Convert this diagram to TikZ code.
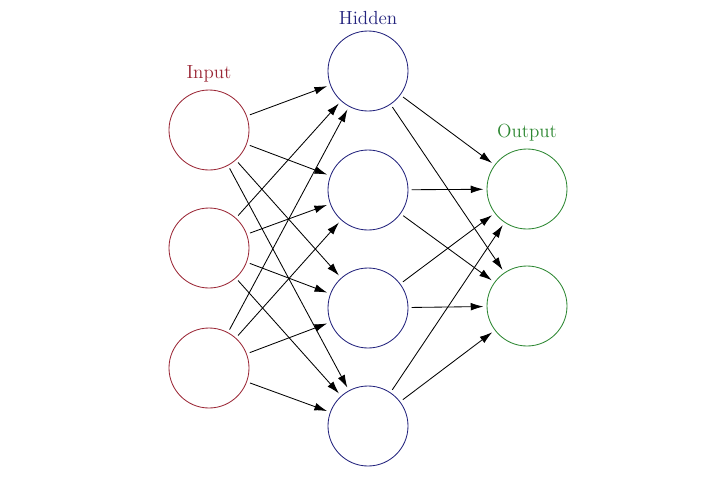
\documentclass[tikz,border=0pt]{standalone}
\usetikzlibrary{arrows.meta}
\tikzset{>={Latex[length=9pt,width=5.5pt]}}
\definecolor{inred}{RGB}{155,40,55}
\definecolor{hidblue}{RGB}{35,35,125}
\definecolor{outgreen}{RGB}{45,135,50}

\begin{document}
\begin{tikzpicture}[
    neuron/.style={circle, draw, line width=0.6pt, minimum size=2cm, inner sep=0pt, outer sep=0.09cm},
    label/.style={font=\fontsize{13.5}{16}\selectfont}
  ]
    \useasboundingbox (0,0) rectangle (18,-12);
    % layers
    \node[neuron, inred] (in1) at (5.225,-3.25) {};
    \node[neuron, inred] (in2) at (5.225,-6.2) {};
    \node[neuron, inred] (in3) at (5.225,-9.2) {};
    \node[neuron, hidblue] (hid1) at (9.2,-1.775) {};
    \node[neuron, hidblue] (hid2) at (9.2,-4.75) {};
    \node[neuron, hidblue] (hid3) at (9.2,-7.7) {};
    \node[neuron, hidblue] (hid4) at (9.2,-10.65) {};
    \node[neuron, outgreen] (out1) at (13.175,-4.725) {};
    \node[neuron, outgreen] (out2) at (13.175,-7.65) {};
    % titles
    \node[label, inred] (intitle) at (5.225,-1.85) {Input};
    \node[label, hidblue] (hidtitle) at (9.2,-0.45) {Hidden};
    \node[label, outgreen] (outtitle) at (13.175,-3.32) {Output};
    % connections
    \foreach \i in {1,2,3}
      \foreach \h in {1,2,3,4}
        \draw[->, line width=0.6pt] (in\i) -- (hid\h);
    \foreach \h in {1,2,3,4}
      \foreach \o in {1,2}
        \draw[->, line width=0.6pt] (hid\h) -- (out\o);
\end{tikzpicture}
\end{document}
